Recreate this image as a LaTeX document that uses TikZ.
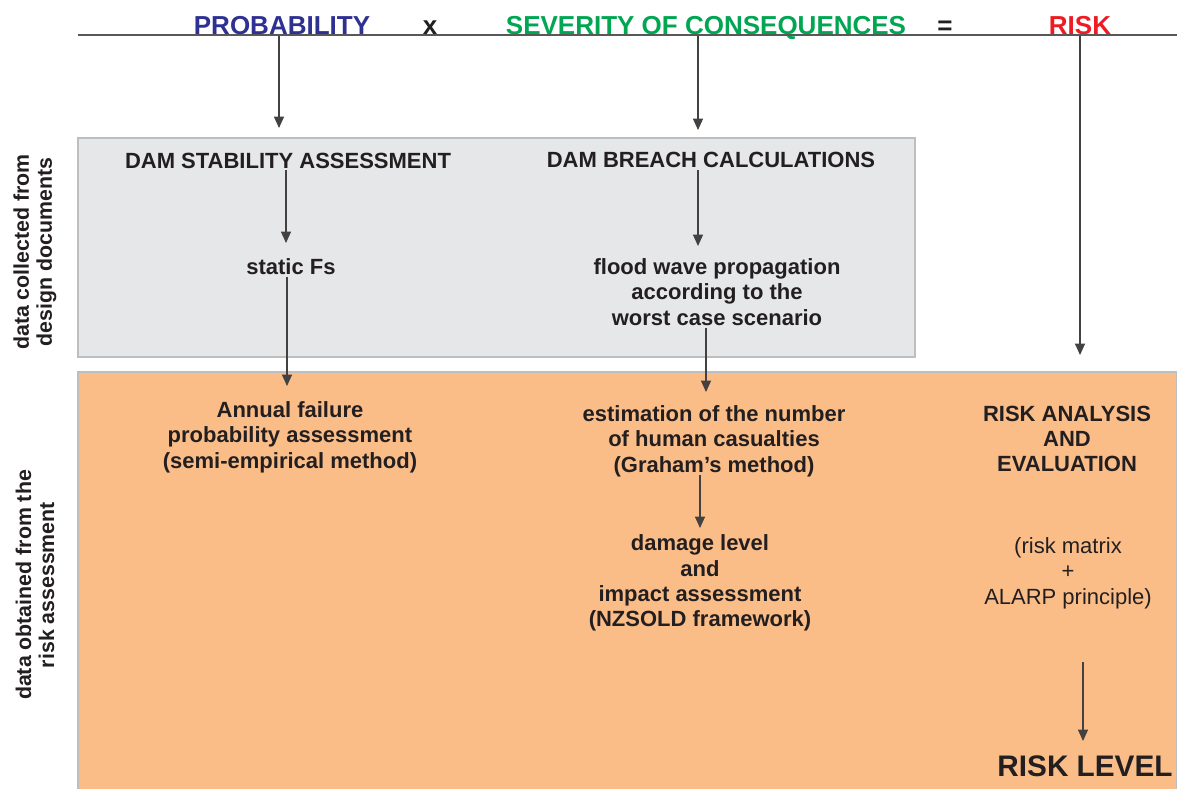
\documentclass[tikz,border=0pt]{standalone}
\usepackage{fontspec}
\setmainfont{Liberation Sans}
\usetikzlibrary{arrows.meta}
\definecolor{probblue}{HTML}{2E3192}
\definecolor{sevgreen}{HTML}{00A651}
\definecolor{riskred}{HTML}{ED1C24}
\definecolor{ink}{HTML}{231F20}
\definecolor{panelgray}{HTML}{E6E7E8}
\definecolor{panelline}{HTML}{BCBEC0}
\definecolor{panelorange}{HTML}{FBBD88}
\begin{document}
\begin{tikzpicture}[x=0.75pt,y=-0.75pt,
  txt/.style={font=\bfseries\fontsize{16.5}{19}\selectfont, text=ink, align=center, inner sep=0pt},
  note/.style={font=\fontsize{16.5}{19}\selectfont, text=ink, align=center, inner sep=0pt},
  title/.style={font=\bfseries\fontsize{19.5}{22}\selectfont, inner sep=0pt, anchor=base},
  side/.style={font=\bfseries\fontsize{16}{17.25}\selectfont, text=ink, align=center, inner sep=0pt, rotate=90},
  arr/.style={draw=ink!85, line width=0.8pt, -{Triangle[length=8.5pt,width=7.5pt]}},
  panel/.style={draw=panelline, line width=0.8pt}]

\useasboundingbox (0,0) rectangle (1177,789);
\fill[white] (0,0) rectangle (1177,789);

% background panels
\path[panel, fill=panelgray] (78,138) rectangle (915,357);
\path[panel, fill=panelorange] (78,789) -- (78,372) -- (1177,372) -- (1177,789);

% headline equation
\node[title, text=probblue] (prob) at (282,34) {PROBABILITY};
\node[title, text=ink] (times) at (430,34) {x};
\node[title, text=sevgreen] (sev) at (706,34) {SEVERITY OF CONSEQUENCES};
\node[title, text=ink] (eq) at (945,34) {=};
\node[title, text=riskred] (risk) at (1080,34) {RISK};
\draw[ink!75, line width=0.8pt] (78,35) -- (1177,35);

% row labels
\node[side] (lblA) at (35,252) {data collected from\\design documents};
\node[side] (lblB) at (35,585) {data obtained from the\\risk assessment};

% probability column
\node[txt] (stab) at (288,161) {DAM STABILITY ASSESSMENT};
\node[txt] (fs) at (291,267) {static Fs};
\node[txt] (annual) at (290,437) {Annual failure\\probability assessment\\(semi-empirical method)};

% consequences column
\node[txt] (breach) at (711,160) {DAM BREACH CALCULATIONS};
\node[txt] (flood) at (717,292) {flood wave propagation\\according to the\\worst case scenario};
\node[txt] (casual) at (714,441) {estimation of the number\\of human casualties\\(Graham's method)};
\node[txt] (damage) at (700,583) {damage level\\and\\impact assessment\\(NZSOLD framework)};

% risk column
\node[txt] (analysis) at (1067,439) {RISK ANALYSIS\\AND\\EVALUATION};
\node[note] (matrix) at (1068,573) {(risk matrix\\+\\ALARP principle)};
\node[font=\bfseries\fontsize{22.3}{24}\selectfont, text=ink, inner sep=0pt, anchor=base] (level) at (1085,776) {RISK LEVEL};

% connector end points
\coordinate (pA) at (279,36);   \coordinate (pB) at (279,128);
\coordinate (sA) at (698,36);   \coordinate (sB) at (698,130);
\coordinate (rA) at (1080,36);  \coordinate (rB) at (1080,355);
\coordinate (tA) at (286,170);  \coordinate (tB) at (286,243);
\coordinate (fsA) at (287,277); \coordinate (fsB) at (287,386);
\coordinate (bA) at (698,170);  \coordinate (bB) at (698,246);
\coordinate (fA) at (706,328);  \coordinate (fB) at (706,392);
\coordinate (cA) at (700,475);  \coordinate (cB) at (700,528);
\coordinate (mA) at (1083,662); \coordinate (mB) at (1083,741);

% connectors
\draw[arr] (pA) -- (pB);
\draw[arr] (sA) -- (sB);
\draw[arr] (rA) -- (rB);
\draw[arr] (tA) -- (tB);
\draw[arr] (fsA) -- (fsB);
\draw[arr] (bA) -- (bB);
\draw[arr] (fA) -- (fB);
\draw[arr] (cA) -- (cB);
\draw[arr] (mA) -- (mB);
\end{tikzpicture}
\end{document}
